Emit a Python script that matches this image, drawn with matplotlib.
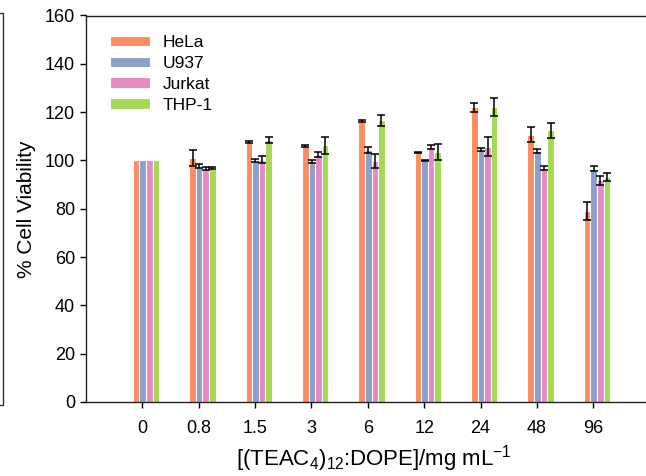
import numpy as np
import matplotlib
matplotlib.use("Agg")
import matplotlib.pyplot as plt
from matplotlib.lines import Line2D

plt.rcParams['font.family'] = ['Liberation Sans', 'DejaVu Sans']
plt.rcParams['mathtext.fontset'] = 'custom'
plt.rcParams['mathtext.rm'] = 'Liberation Sans'
plt.rcParams['mathtext.it'] = 'Liberation Sans:italic'

# concentrations (mg/mL) and viability (%) per cell line
doses = ['0', '0.8', '1.5', '3', '6', '12', '24', '48', '96']
cells = ['HeLa', 'U937', 'Jurkat', 'THP-1']
hela = [100, 101.1, 107.5, 106.0, 116.5, 103.3, 122.0, 110.7, 79.2]
u937 = [100, 97.6, 99.8, 99.5, 104.2, 100.0, 104.5, 104.0, 96.6]
jurkat = [100, 96.6, 100.3, 102.4, 99.8, 105.5, 105.7, 97.0, 91.7]
thp1 = [100, 96.9, 108.5, 106.3, 116.6, 103.5, 122.1, 112.4, 93.0]
hela_err = [0, 3.3, 0.4, 0.4, 0.4, 0.3, 1.8, 3.0, 3.8]
u937_err = [0, 0.9, 0.6, 0.5, 1.2, 0.3, 0.5, 0.9, 1.1]
jurkat_err = [0, 0.5, 1.5, 1.0, 3.0, 0.8, 3.9, 0.8, 2.0]
thp1_err = [0, 0.4, 1.2, 3.6, 2.4, 3.2, 3.8, 3.1, 1.6]
colors = ['#FC8D62', '#8DA0CB', '#E78AC3', '#A6D854']

W, H = 646, 476
fig = plt.figure(figsize=(W/100, H/100), dpi=100)
ax = fig.add_axes([86/W, (H-402)/H, 575/W, (402-15.5)/H])

x = np.arange(len(doses))
bw = 0.117
series = [hela, u937, jurkat, thp1]
errs = [hela_err, u937_err, jurkat_err, thp1_err]
for i in range(4):
    xs = x + (i-1.5)*bw + 0.065
    ax.bar(xs, series[i], width=bw, color=colors[i], edgecolor='white',
           linewidth=0.8, label=cells[i], zorder=2)
    e = np.array(errs[i])
    m = e > 0
    ax.errorbar(xs[m], np.array(series[i])[m], yerr=e[m], fmt='none',
                ecolor='black', elinewidth=1.1, capsize=3.2, capthick=1.1, zorder=3)

ax.set_xlim(-1.0, 9.2)
ax.set_ylim(0, 160)
ax.set_yticks(np.arange(0, 161, 20))
ax.set_xticks(x)
ax.set_xticklabels(doses)
ax.tick_params(direction='out', length=4, width=1, labelsize=13, colors='black', pad=4)
ax.tick_params(axis='x', pad=9)
for s in ax.spines.values():
    s.set_linewidth(1)
    s.set_color('#222222')

ax.set_ylabel('% Cell Viability', fontsize=15, labelpad=6)
ax.set_xlabel(r'[(TEAC$_4$)$_{12}$:DOPE]/mg mL$^{-1}$', fontsize=16, labelpad=4)

ax.legend(loc='upper left', bbox_to_anchor=(24/575, 1 - 19.5/386.5), frameon=False,
          fontsize=12.5, handlelength=2.3, handleheight=0.55, handletextpad=0.75,
          labelspacing=0.34, borderpad=0, borderaxespad=0)

# edge of the neighbouring panel
fx = np.array([0, 3, 3, 0]) / W
fy = 1 - np.array([13, 13, 405, 405]) / H
fig.add_artist(Line2D(fx, fy, color='#333333', lw=1))

fig.savefig('out.png', dpi=100)
